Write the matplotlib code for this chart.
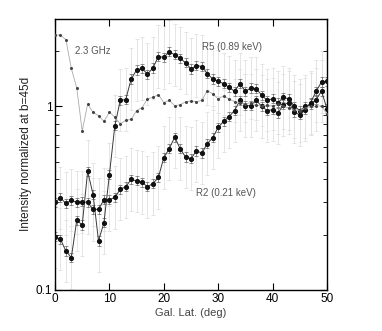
import numpy as np
import matplotlib
matplotlib.use("Agg")
import matplotlib.pyplot as plt
from matplotlib.ticker import LogLocator, NullFormatter, FixedLocator, FixedFormatter

# Galactic latitude (deg)
lat = list(range(0, 51))

# 2.3 GHz radio intensity (normalized)
ghz = [2.45, 2.45, 2.31, 1.61, 1.26, 0.734, 1.03, 0.93, 0.89, 0.83,
       0.93, 0.875, 0.805, 0.84, 0.85, 0.95, 0.985, 1.10, 1.12, 1.16,
       1.05, 1.08, 1.01, 1.02, 1.06, 1.07, 1.06, 1.08, 1.22, 1.17,
       1.10, 1.14, 1.10, 1.06, 1.05, 1.03, 1.05, 1.02, 1.00, 1.02,
       1.00, 1.03, 1.00, 0.98, 0.96, 0.95, 0.98, 1.00, 1.00, 1.01, 0.91]

# R5 (0.89 keV)
r5 = [0.195, 0.189, 0.163, 0.150, 0.240, 0.226, 0.443, 0.331, 0.185, 0.233,
      0.425, 0.785, 1.08, 1.09, 1.41, 1.58, 1.61, 1.50, 1.62, 1.87,
      1.85, 1.99, 1.91, 1.83, 1.73, 1.60, 1.67, 1.65, 1.51, 1.41,
      1.37, 1.33, 1.27, 1.21, 1.33, 1.21, 1.26, 1.25, 1.15, 1.08,
      1.10, 1.05, 1.12, 1.10, 1.00, 0.95, 1.00, 1.03, 1.09, 1.21, 0.97]

# R2 (0.21 keV)
r2 = [0.300, 0.318, 0.296, 0.308, 0.300, 0.302, 0.300, 0.275, 0.275, 0.311,
      0.311, 0.319, 0.354, 0.365, 0.400, 0.393, 0.386, 0.365, 0.380, 0.410,
      0.526, 0.589, 0.680, 0.589, 0.530, 0.520, 0.572, 0.557, 0.627, 0.676,
      0.770, 0.830, 0.880, 0.950, 1.08, 1.01, 1.01, 1.08, 1.00, 0.95,
      0.96, 0.92, 1.02, 1.05, 0.93, 0.90, 0.96, 1.05, 1.21, 1.36, 1.37]

# error sizes (dex)
err_sys = 0.17
err_stat = 0.025

x_ticks = [0, 10, 20, 30, 40, 50]
y_ticks = [0.1, 1]
y_ticklabels = ["0.1", "1"]

plt.rcParams['font.family'] = ['Liberation Sans', 'DejaVu Sans']

fig = plt.figure(figsize=(3.82, 3.31), dpi=100)
ax = fig.add_axes([0.144, 0.124, 0.712, 0.819])

x = np.array(lat)
for vals in (r5, r2):
    v = np.array(vals)
    lo_s = v - v * 10 ** (-err_sys)
    hi_s = v * 10 ** err_sys - v
    ax.errorbar(x, v, yerr=[lo_s, hi_s], fmt='none', ecolor='#e0e0e0',
                elinewidth=0.6, capsize=1.5, capthick=0.6, zorder=1)
    lo = v - v * 10 ** (-err_stat)
    hi = v * 10 ** err_stat - v
    ax.errorbar(x, v, yerr=[lo, hi], fmt='none', ecolor='#666666',
                elinewidth=0.5, capsize=1.5, capthick=0.5, zorder=2)
    ax.plot(x, v, '-', color='#3a3a3a', lw=0.7, marker='o', ms=2.7,
            mfc='#111111', mec='#111111', zorder=3)

ax.plot(x, np.array(ghz), '-', color='#aaaaaa', lw=0.6, marker='o', ms=1.2,
        mfc='#444444', mec='#444444', zorder=3)

ax.set_yscale('log')
ax.set_xlim(0, 50)
ax.set_ylim(0.1, 3.0)
ax.xaxis.set_major_locator(FixedLocator(x_ticks))
ax.yaxis.set_major_locator(FixedLocator(y_ticks))
ax.yaxis.set_major_formatter(FixedFormatter(y_ticklabels))
ax.yaxis.set_minor_locator(LogLocator(base=10, subs=np.arange(2, 10)))
ax.yaxis.set_minor_formatter(NullFormatter())
ax.tick_params(which='both', direction='in', top=True, right=True,
               labelsize=8.5, colors='black', pad=2)
ax.tick_params(which='major', length=5, width=0.8)
ax.tick_params(which='minor', length=3, width=0.6)
for s in ax.spines.values():
    s.set_linewidth(1.0)

ax.set_xlabel('Gal. Lat. (deg)', fontsize=8, color='#444444', labelpad=2)
ax.set_ylabel('Intensity normalized at b=45d', fontsize=8.5, color='#222222', labelpad=3)

ax.text(3.7, 2.01, '2.3 GHz', fontsize=7, color='#555555', va='center', ha='left')
ax.text(27.0, 2.12, 'R5 (0.89 keV)', fontsize=7, color='#555555', va='center', ha='left')
ax.text(26.0, 0.339, 'R2 (0.21 keV)', fontsize=7, color='#555555', va='center', ha='left')

fig.savefig('out.png', dpi=100)
